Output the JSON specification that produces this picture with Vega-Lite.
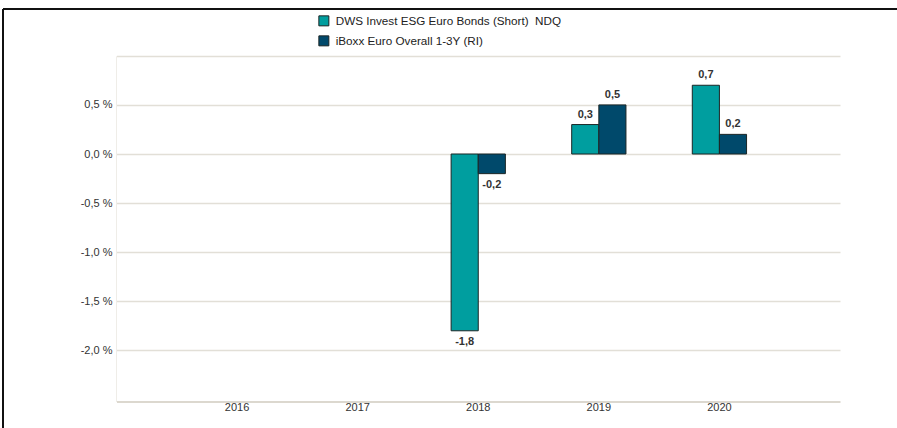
{
  "$schema": "https://vega.github.io/schema/vega-lite/v6.json",
  "width": 894,
  "height": 419,
  "autosize": "none",
  "padding": {"left": 3, "top": 9, "right": 0, "bottom": 0},
  "background": "white",
  "config": {
    "view": {"stroke": "#111111", "strokeWidth": 2, "strokeDash": [894, 1313, 419, 0]},
    "font": "Liberation Sans"
  },
  "data": {
    "values": [
      {"year": "2018", "series": "DWS Invest ESG Euro Bonds (Short)\u00a0 NDQ", "value": -1.8, "label": "-1,8"},
      {"year": "2018", "series": "iBoxx Euro Overall 1-3Y (RI)", "value": -0.2, "label": "-0,2"},
      {"year": "2019", "series": "DWS Invest ESG Euro Bonds (Short)\u00a0 NDQ", "value": 0.3, "label": "0,3"},
      {"year": "2019", "series": "iBoxx Euro Overall 1-3Y (RI)", "value": 0.5, "label": "0,5"},
      {"year": "2020", "series": "DWS Invest ESG Euro Bonds (Short)\u00a0 NDQ", "value": 0.7, "label": "0,7"},
      {"year": "2020", "series": "iBoxx Euro Overall 1-3Y (RI)", "value": 0.2, "label": "0,2"}
    ]
  },
  "encoding": {
    "x": {
      "field": "year",
      "type": "nominal",
      "scale": {"domain": ["2016", "2017", "2018", "2019", "2020"], "range": [113.5, 837], "paddingInner": 0.55, "paddingOuter": 0.775},
      "axis": {"title": null, "orient": "bottom", "offset": -26.5, "ticks": false, "domainColor": "#dcd8cf", "domainWidth": 2, "labelAngle": 0, "labelFontSize": 11, "labelColor": "#333333", "labelPadding": 0, "grid": false}
    },
    "xOffset": {
      "field": "series",
      "type": "nominal",
      "scale": {"domain": ["DWS Invest ESG Euro Bonds (Short)\u00a0 NDQ", "iBoxx Euro Overall 1-3Y (RI)"], "paddingInner": 0, "paddingOuter": 0}
    },
    "y": {
      "field": "value",
      "type": "quantitative",
      "scale": {"domain": [-2.52, 1.0], "range": [392.5, 46.8], "nice": false, "zero": false},
      "axis": {"title": null, "values": [-2, -1.5, -1, -0.5, 0, 0.5, 1], "labelExpr": "datum.value == 1 ? '' : (datum.value < 0 ? '-' : '') + replace(format(abs(datum.value), '.1f'), '.', ',') + ' %'", "offset": -113, "grid": true, "gridColor": "#e2dfd7", "gridWidth": 1.5, "ticks": false, "labelPadding": 4, "domainColor": "#efede8", "labelFontSize": 11, "labelColor": "#333333"}
    }
  },
  "layer": [
    {
      "mark": {"type": "bar", "stroke": "#1b2626", "strokeWidth": 1},
      "encoding": {
        "color": {
          "field": "series",
          "type": "nominal",
          "scale": {"domain": ["DWS Invest ESG Euro Bonds (Short)\u00a0 NDQ", "iBoxx Euro Overall 1-3Y (RI)"], "range": ["#009e9f", "#00496b"]},
          "legend": {"orient": "none", "legendX": 315, "legendY": 6, "title": null, "direction": "vertical", "symbolType": "square", "symbolSize": 100, "symbolStrokeColor": "#1b2626", "symbolStrokeWidth": 1, "labelFontSize": 11.7, "labelColor": "#222222", "rowPadding": 5, "labelOffset": 6, "padding": 0, "labelLimit": 400}
        }
      }
    },
    {
      "transform": [{"filter": "datum.value >= 0"}],
      "mark": {"type": "text", "baseline": "bottom", "dy": -5, "fontWeight": "bold", "fontSize": 11, "color": "#333333"},
      "encoding": {"text": {"field": "label"}}
    },
    {
      "transform": [{"filter": "datum.value < 0"}],
      "mark": {"type": "text", "baseline": "top", "dy": 5, "fontWeight": "bold", "fontSize": 11, "color": "#333333"},
      "encoding": {"text": {"field": "label"}}
    }
  ]
}
